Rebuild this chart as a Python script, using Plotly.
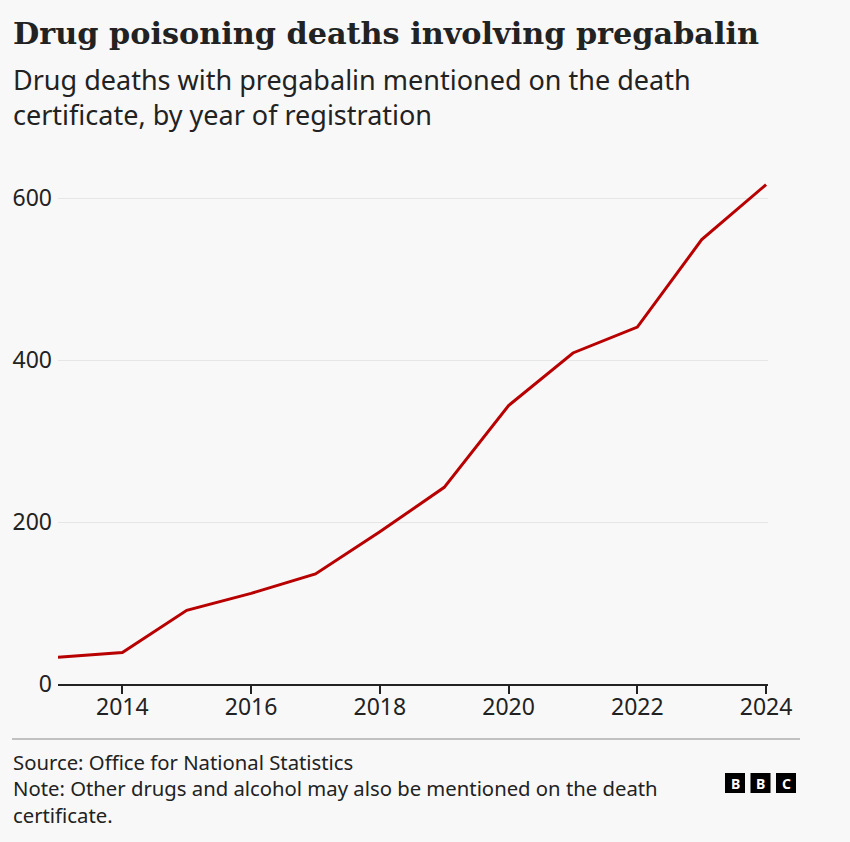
import plotly.graph_objects as go

years = [2013, 2014, 2015, 2016, 2017, 2018, 2019, 2020, 2021, 2022, 2023, 2024]
deaths = [33, 39, 91, 112, 136, 188, 243, 344, 409, 441, 549, 617]
y_ticks = [0, 200, 400, 600]
x_ticks = [2014, 2016, 2018, 2020, 2022, 2024]

title_text = "<b>Drug poisoning deaths involving pregabalin</b>"
subtitle_text = "Drug deaths with pregabalin mentioned on the death<br>certificate, by year of registration"
source_text = ("Source: Office for National Statistics<br>"
               "Note: Other drugs and alcohol may also be mentioned on the death<br>"
               "certificate.")
logo_letters = ["B", "B", "C"]

W, H = 850, 842
L, R, T, B = 58, 82, 166, 158
pw, ph = W - L - R, H - T - B


# pixel -> paper helpers for the text / decorations outside the plot
def px(x):
    return (x - L) / pw


def py(y):
    return (H - B - y) / ph


fig = go.Figure()
fig.add_trace(go.Scatter(x=years, y=deaths, mode="lines",
                         line=dict(color="#b80000", width=3),
                         hoverinfo="x+y"))

ann = []
ann.append(dict(text=title_text, x=px(11), y=py(14), xref="paper", yref="paper",
                xanchor="left", yanchor="top", showarrow=False, align="left",
                font=dict(family="DejaVu Serif", size=30.3, color="#222222")))
ann.append(dict(text=subtitle_text, x=px(11), y=py(59), xref="paper", yref="paper",
                xanchor="left", yanchor="top", showarrow=False, align="left",
                font=dict(family="Noto Sans", size=27, color="#222222")))
ann.append(dict(text=source_text, x=px(11), y=py(746), xref="paper", yref="paper",
                xanchor="left", yanchor="top", showarrow=False, align="left",
                font=dict(family="Noto Sans", size=20.3, color="#222222")))

shapes = [dict(type="line", xref="paper", yref="paper",
               x0=px(12), x1=px(800), y0=py(739), y1=py(739),
               line=dict(color="#8a8a8a", width=1))]
for i, letter in enumerate(logo_letters):
    x0 = 725 + i * 25.5
    shapes.append(dict(type="rect", xref="paper", yref="paper",
                       x0=px(x0), x1=px(x0 + 20), y0=py(773), y1=py(793),
                       fillcolor="#000000", line=dict(width=0)))
    ann.append(dict(text="<b>" + letter + "</b>", x=px(x0 + 10), y=py(783),
                    xref="paper", yref="paper", xanchor="center", yanchor="middle",
                    showarrow=False,
                    font=dict(family="Noto Sans", size=14, color="#ffffff")))

fig.update_layout(
    width=W, height=H,
    margin=dict(l=L, r=R, t=T, b=B),
    paper_bgcolor="#f8f8f8", plot_bgcolor="#f8f8f8",
    showlegend=False,
    annotations=ann, shapes=shapes,
    font=dict(family="Noto Sans", color="#222222"),
)
fig.update_xaxes(range=[2013, 2024.03], tickvals=x_ticks, showgrid=False,
                 showline=True, linecolor="#222222", linewidth=2,
                 ticks="outside", ticklen=8, tickwidth=1.5, tickcolor="#222222",
                 ticklabelstandoff=-7,
                 tickfont=dict(size=23, color="#222222"), zeroline=False)
fig.update_yaxes(range=[0, 640], tickvals=y_ticks, showgrid=True,
                 gridcolor="#e6e6e6", gridwidth=1, zeroline=False,
                 showline=False, ticks="", ticklabelstandoff=5,
                 tickfont=dict(size=23, color="#222222"))

# drop the default page margin so the chart sits at the window's corner
fig.write_html("out.html", config={"displayModeBar": False},
               post_script="document.body.style.margin='0px';")
